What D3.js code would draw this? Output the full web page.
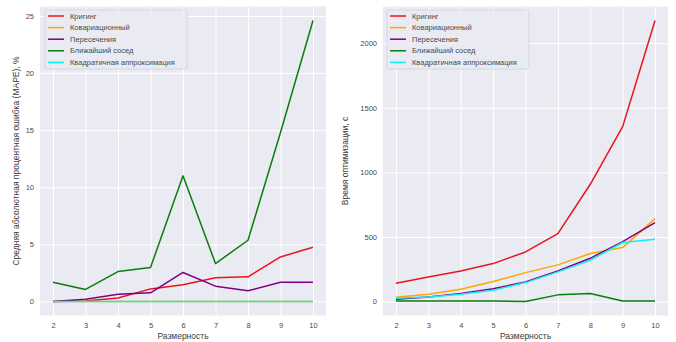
<!DOCTYPE html>
<html>
<head>
<meta charset="utf-8">
<script src="https://cdn.jsdelivr.net/npm/d3@7"></script>
<style>
  html, body { margin: 0; padding: 0; background: #fff; }
  svg { display: block; font-family: "Liberation Sans", Arial, sans-serif; }
</style>
</head>
<body>
<svg id="chart" width="676" height="342"></svg>
<script>
// Dimensions (x axis) shared by both panels
const dims = [2, 3, 4, 5, 6, 7, 8, 9, 10];

const seriesNames = ["Кригинг", "Ковариационный", "Пересечения", "Ближайший сосед", "Квадратичная аппроксимация"];
const seriesColors = ["#e8141e", "#ffa500", "#800080", "#0a7d0a", "#10f0f0"];

// Mean absolute percentage error, %
const mapeKriging    = [0.0, 0.05, 0.3, 1.1, 1.46, 2.07, 2.16, 3.9, 4.75];
const mapeCovariance = [0.0, 0.0, 0.0, 0.0, 0.0, 0.0, 0.0, 0.0, 0.0];
const mapeIntersect  = [0.0, 0.2, 0.64, 0.76, 2.54, 1.34, 0.93, 1.69, 1.69];
const mapeNearest    = [1.69, 1.05, 2.62, 2.97, 11.0, 3.32, 5.36, 14.8, 24.6];
const mapeQuadratic  = [0.0, 0.0, 0.0, 0.0, 0.0, 0.0, 0.0, 0.0, 0.0];

// Optimisation time, s
const timeKriging    = [142, 191, 237, 294, 384, 526, 908, 1354, 2175];
const timeCovariance = [34, 57, 95, 155, 224, 284, 372, 418, 642];
const timeIntersect  = [18, 36, 62, 100, 152, 237, 335, 464, 611];
const timeNearest    = [5, 5, 4, 4, 1, 52, 62, 5, 5];
const timeQuadratic  = [26, 36, 57, 88, 147, 230, 320, 457, 482];

const mapeTicks = [0, 5, 10, 15, 20, 25];
const timeTicks = [0, 500, 1000, 1500, 2000];

const xLabel = "Размерность";
const mapeLabel = "Средняя абсолютная процентная ошибка (MAPE), %";
const timeLabel = "Время оптимизации, с";

const svg = d3.select("#chart");

function panel(cfg) {
  const { left, right, top, bottom, series, yTicks, yLabel, yLabelX, legend } = cfg;
  const g = svg.append("g");

  // matplotlib-style 5% margins around the data range
  const xMin = d3.min(dims), xMax = d3.max(dims);
  const xPad = (xMax - xMin) * 0.05;
  const x = d3.scaleLinear().domain([xMin - xPad, xMax + xPad]).range([left, right]);

  const all = series.flat();
  const yMin = d3.min(all), yMax = d3.max(all);
  const yPad = (yMax - yMin) * 0.05;
  const y = d3.scaleLinear().domain([yMin - yPad, yMax + yPad]).range([bottom, top]);

  g.append("rect")
    .attr("x", left).attr("y", top)
    .attr("width", right - left).attr("height", bottom - top)
    .attr("fill", "#eaeaf2");

  // grid + tick labels via d3 axes
  const xAxis = d3.axisBottom(x).tickValues(dims).tickSize(-(bottom - top)).tickPadding(7).tickFormat(d3.format("d"));
  const yAxis = d3.axisLeft(y).tickValues(yTicks).tickSize(-(right - left)).tickPadding(6).tickFormat(d3.format("d"));

  const gx = g.append("g").attr("transform", `translate(0,${bottom})`).call(xAxis);
  const gy = g.append("g").attr("transform", `translate(${left},0)`).call(yAxis);
  [gx, gy].forEach(a => {
    a.select(".domain").remove();
    a.selectAll(".tick line").attr("stroke", "#ffffff").attr("stroke-width", 1);
    a.selectAll(".tick text").attr("fill", "#4a4a4a").attr("font-size", 7.5)
      .attr("font-family", "Liberation Sans, Arial, sans-serif");
  });

  const line = d3.line().x((d, i) => x(dims[i])).y(d => y(d));
  series.forEach((s, k) => {
    g.append("path")
      .datum(s)
      .attr("d", line)
      .attr("fill", "none")
      .attr("stroke", seriesColors[k])
      .attr("stroke-width", 1.5)
      .attr("stroke-linejoin", "round");
  });

  // axis titles
  g.append("text")
    .attr("x", (left + right) / 2).attr("y", 339)
    .attr("text-anchor", "middle")
    .attr("font-size", 8.5).attr("fill", "#3a3a3a")
    .text(xLabel);

  g.append("text")
    .attr("transform", `translate(${yLabelX},${(top + bottom) / 2}) rotate(-90)`)
    .attr("text-anchor", "middle")
    .attr("font-size", 8.5).attr("fill", "#3a3a3a")
    .text(yLabel);

  // legend
  const lg = g.append("g").attr("transform", `translate(${legend.x},${legend.y})`);
  lg.append("rect")
    .attr("width", legend.w).attr("height", legend.h)
    .attr("rx", 2)
    .attr("fill", "rgba(234,234,242,0.85)")
    .attr("stroke", "#d2d2d8").attr("stroke-width", 0.8);
  seriesNames.forEach((name, k) => {
    const yy = 6 + k * 11.6;
    lg.append("line")
      .attr("x1", 3).attr("x2", 19).attr("y1", yy).attr("y2", yy)
      .attr("stroke", seriesColors[k]).attr("stroke-width", 1.5);
    lg.append("text")
      .attr("x", 25).attr("y", yy + 2.6)
      .attr("font-size", 7.5).attr("fill", "#4a4a4a")
      .text(name);
  });
}

panel({
  left: 40, right: 326, top: 6.5, bottom: 315.5,
  series: [mapeKriging, mapeCovariance, mapeIntersect, mapeNearest, mapeQuadratic],
  yTicks: mapeTicks, yLabel: mapeLabel, yLabelX: 19,
  legend: { x: 45, y: 10, w: 142, h: 59 }
});

panel({
  left: 383, right: 668, top: 6.5, bottom: 315.5,
  series: [timeKriging, timeCovariance, timeIntersect, timeNearest, timeQuadratic],
  yTicks: timeTicks, yLabel: timeLabel, yLabelX: 348,
  legend: { x: 387, y: 10, w: 142, h: 59 }
});
</script>
</body>
</html>
